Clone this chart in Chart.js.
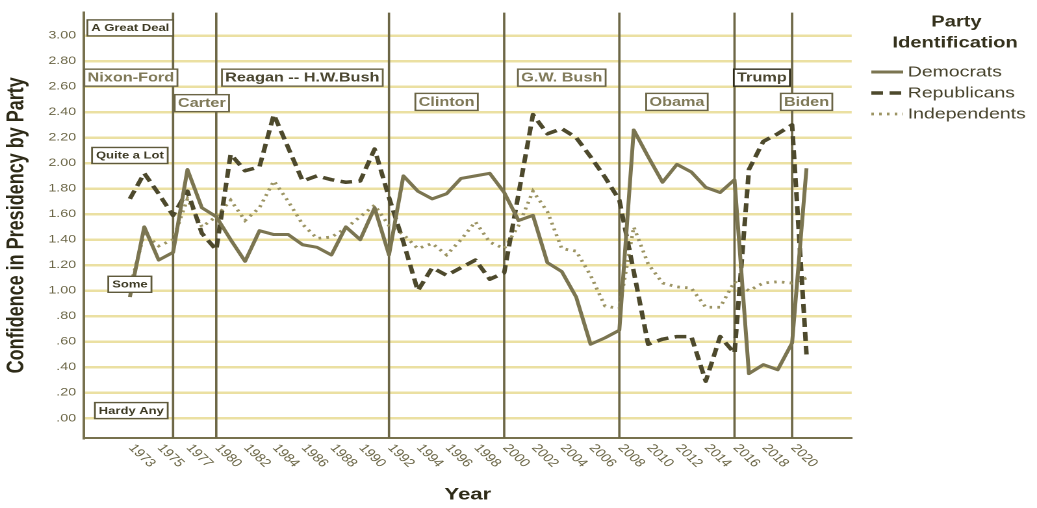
<!DOCTYPE html>
<html><head><meta charset="utf-8">
<script src="https://cdn.jsdelivr.net/npm/chart.js@4/dist/chart.umd.min.js"></script>
<style>
html,body{margin:0;padding:0;background:#fff;overflow:hidden}
#wrap{width:1037px;height:508px;overflow:hidden;position:relative;background:#fff}
#c{position:absolute;left:0;top:0;transform:scaleX(1.2995);transform-origin:0 0}
</style></head>
<body><div id="wrap"><canvas id="c" width="798" height="508"></canvas></div>
<script>
// ---- data ----
const categories = [1973,1974,1975,1976,1977,1978,1980,1981,1982,1983,1984,1985,1986,1987,1988,1989,1990,1991,1992,1993,1994,1995,1996,1997,1998,1999,2000,2001,2002,2003,2004,2005,2006,2007,2008,2009,2010,2011,2012,2013,2014,2015,2016,2017,2018,2019,2020,2021];
const tickYears = [1973,1975,1977,1980,1982,1984,1986,1988,1990,1992,1994,1996,1998,2000,2002,2004,2006,2008,2010,2012,2014,2016,2018,2020];
const democrats = [0.95,1.50,1.24,1.30,1.95,1.65,1.58,1.40,1.23,1.47,1.44,1.44,1.36,1.34,1.28,1.50,1.40,1.65,1.28,1.90,1.78,1.72,1.76,1.88,1.90,1.92,1.77,1.55,1.59,1.22,1.15,0.95,0.58,0.63,0.69,2.26,2.05,1.85,1.99,1.93,1.81,1.77,1.87,0.35,0.42,0.38,0.59,1.96];
const republicans = [1.72,1.92,1.76,1.59,1.78,1.45,1.32,2.07,1.94,1.97,2.38,2.12,1.86,1.90,1.87,1.85,1.86,2.11,1.73,1.38,1.00,1.18,1.12,1.18,1.24,1.09,1.14,1.76,2.38,2.23,2.27,2.20,2.05,1.89,1.71,1.15,0.58,0.62,0.64,0.64,0.29,0.64,0.51,1.95,2.17,2.23,2.30,0.50];
const independents = [1.02,1.45,1.35,1.40,1.72,1.50,1.58,1.71,1.55,1.65,1.86,1.70,1.52,1.41,1.42,1.49,1.58,1.67,1.51,1.44,1.33,1.37,1.28,1.40,1.54,1.38,1.33,1.51,1.78,1.62,1.33,1.31,1.12,0.88,0.86,1.50,1.21,1.06,1.03,1.02,0.87,0.87,1.07,1.00,1.06,1.07,1.06,1.10];
const electionYears = [1976,1980,1992,2000,2008,2016,2020];
const presidents = ['Nixon-Ford','Carter','Reagan -- H.W.Bush','Clinton','G.W. Bush','Obama','Trump','Biden'];
const scaleLabels = ['A Great Deal','Quite a Lot','Some','Hardy Any'];

// ---- annotation placement (x in category index units, y in value units) ----
const presidentPos = [[0.07,2.67],[5.0,2.47],[11.98,2.67],[22.0,2.48],[30.0,2.67],[38.0,2.48],[43.9,2.67],[47.0,2.48]];
const scaleLabelPos = [[0.03,3.06],[0.0,2.06],[0.0,1.05],[0.1,0.06]];

const FONT = '"Liberation Sans", Arial, sans-serif';
const pts = arr => arr.map((v,i)=>({x:i,y:v}));

const decor = {
  id:'decor',
  beforeDatasetsDraw(chart){
    const {ctx, chartArea:a, scales:{x}} = chart;
    ctx.save();
    ctx.strokeStyle = '#6d6746';
    ctx.lineWidth = 1.8;
    electionYears.forEach(yr=>{
      const px = x.getPixelForValue(categories.indexOf(yr));
      ctx.beginPath(); ctx.moveTo(px, a.top); ctx.lineTo(px, a.bottom); ctx.stroke();
    });
    ctx.restore();
  },
  afterDatasetsDraw(chart){
    const {ctx, scales:{x,y}} = chart;
    const box = (text, xv, yv, font, color, border, pad, h) => {
      ctx.font = font;
      const w = ctx.measureText(text).width + 2*pad;
      const cx = x.getPixelForValue(xv), cy = y.getPixelForValue(yv);
      ctx.fillStyle = '#ffffff';
      ctx.fillRect(cx - w/2, cy - h/2, w, h);
      ctx.strokeStyle = border; ctx.lineWidth = 1.4;
      ctx.strokeRect(cx - w/2, cy - h/2, w, h);
      ctx.fillStyle = color; ctx.textAlign = 'center'; ctx.textBaseline = 'middle';
      ctx.fillText(text, cx, cy + 0.5);
    };
    ctx.save();
    scaleLabels.forEach((t,i)=>box(t, scaleLabelPos[i][0], scaleLabelPos[i][1], 'bold 10px '+FONT, '#3e3b25', '#5f5a3c', 3, 16));
    presidents.forEach((t,i)=>box(t, presidentPos[i][0], presidentPos[i][1], 'bold 12.5px '+FONT, t==='Trump'||t.startsWith('Reagan') ? '#4a4630' : '#7f7958', t==='Trump' ? '#2f2c1a' : '#6b6546', 2.5, 17));
    ctx.restore();
  },
  afterDraw(chart){
    const {ctx, chartArea:a, scales:{x}} = chart;
    ctx.save();
    // rotated year labels
    ctx.font = '11.5px '+FONT;
    ctx.fillStyle = '#6a6545';
    ctx.textAlign = 'left'; ctx.textBaseline = 'middle';
    tickYears.forEach(yr=>{
      const px = x.getPixelForValue(categories.indexOf(yr));
      ctx.save(); ctx.translate(px + 1, a.bottom + 8); ctx.rotate(50*Math.PI/180);
      ctx.fillText(String(yr), 0, 0); ctx.restore();
    });
    // legend
    ctx.fillStyle = '#35321d';
    ctx.font = 'bold 15.5px '+FONT; ctx.textAlign = 'center';
    ctx.fillText('Party', 736, 22);
    ctx.fillText('Identification', 735, 43);
    const ys = [72, 93, 114];
    chart.data.datasets.forEach((ds,i)=>{
      ctx.save();
      ctx.strokeStyle = ds.borderColor; ctx.lineWidth = ds.borderWidth;
      ctx.setLineDash(ds.borderDash || []);
      ctx.beginPath(); ctx.moveTo(670.5, ys[i]); ctx.lineTo(695, ys[i]); ctx.stroke();
      ctx.restore();
      ctx.fillStyle = '#46422b'; ctx.font = '15px '+FONT; ctx.textAlign = 'left';
      ctx.fillText(ds.label, 698.5, ys[i] + 0.5);
    });
    ctx.restore();
  }
};

new Chart(document.getElementById('c'), {
  type:'line',
  data:{
    datasets:[
      {label:'Democrats', data:pts(democrats), borderColor:'#7b7551', borderWidth:3, pointRadius:0, tension:0, borderJoinStyle:'round'},
      {label:'Republicans', data:pts(republicans), borderColor:'#4d492c', borderWidth:3.5, borderDash:[9,5], pointRadius:0, tension:0, borderJoinStyle:'round'},
      {label:'Independents', data:pts(independents), borderColor:'#9c9463', borderWidth:2.8, borderDash:[2,4], pointRadius:0, tension:0}
    ]
  },
  options:{
    responsive:false, maintainAspectRatio:false, animation:false, devicePixelRatio:2,
    layout:{padding:{top:6, right:142.6, left:0, bottom:0}},
    plugins:{legend:{display:false}, tooltip:{enabled:false}},
    scales:{
      x:{type:'linear', min:-3.19, max:50.14,
         ticks:{display:false}, grid:{display:false},
         border:{display:true, color:'#77714e', width:2},
         title:{display:true, text:'Year', font:{family:FONT, size:17, weight:'bold'}, color:'#2e2b18', padding:{top:0,bottom:3}},
         afterFit(s){ s.height = 70; }},
      y:{type:'linear', min:-0.155, max:3.18,
         ticks:{stepSize:0.2, includeBounds:false, padding:6, color:'#6a6545', font:{family:FONT, size:11},
                callback:v=>v.toFixed(2).replace(/^0/,'')},
         grid:{color:'#ebe0a2', lineWidth:2.5, drawTicks:false},
         border:{display:true, color:'#77714e', width:2},
         title:{display:true, text:'Confidence in Presidency by Party', font:{family:FONT, size:18, weight:'bold'}, color:'#2e2b18', padding:{top:2,bottom:0}},
         afterFit(s){ s.width = 64.6; }}
    }
  },
  plugins:[decor]
});
</script></body></html>
